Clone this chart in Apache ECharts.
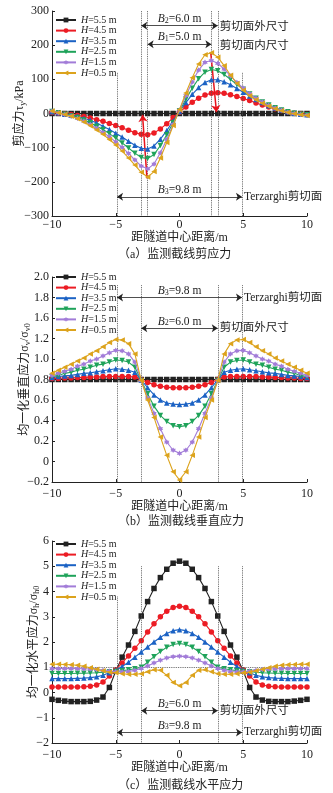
<!DOCTYPE html>
<html><head><meta charset="utf-8">
<script src="https://cdn.jsdelivr.net/npm/echarts@6/dist/echarts.min.js"></script>
<style>html,body{margin:0;padding:0;background:#fff}#c{width:333px;height:793px}</style>
</head><body><div id="c"></div>
<script>
// ---------- DATA ----------
const xs = [-10,-9.5,-9,-8.5,-8,-7.5,-7,-6.5,-6,-5.5,-5,-4.5,-4,-3.5,-3,-2.5,-2,-1.5,-1,-0.5,0,0.5,1,1.5,2,2.5,3,3.5,4,4.5,5,5.5,6,6.5,7,7.5,8,8.5,9,9.5,10];
const seriesNames = ['H=5.5 m','H=4.5 m','H=3.5 m','H=2.5 m','H=1.5 m','H=0.5 m'];

// (a) shear stress, kPa
const a55 = [0,0,0,0,0,0,0,0,0,0,0,0,0,0,0,0,0,0,0,0,0,0,0,0,0,0,0,0,0,0,0,0,0,0,0,0,0,0,0,0,0];
const a45 = [3,1,-1,-3,-6,-9,-13,-18,-23,-29,-35,-42,-49,-56,-61,-62,-57,-45,-30,-12,4,19,33,45,54,59,61,59,55,50,44,38,31,25,19,14,9,5,1,-1,-3];
const a35 = [5,2,-2,-5,-9,-14,-20,-28,-37,-47,-58,-69,-81,-93,-102,-104,-95,-75,-50,-22,6,32,56,76,91,99,99,93,84,73,62,51,41,32,23,16,10,5,1,-2,-4];
const a25 = [6,2,-2,-7,-12,-19,-27,-37,-47,-59,-72,-86,-101,-116,-129,-132,-120,-94,-62,-27,8,42,74,102,121,129,125,114,100,85,71,57,45,34,25,17,10,5,1,-2,-4];
const a15 = [7,2,-3,-8,-14,-22,-32,-43,-55,-68,-83,-99,-117,-136,-154,-162,-148,-115,-76,-32,10,52,92,127,150,155,147,130,110,91,74,58,45,34,24,16,10,4,0,-3,-5];
const a05 = [7,2,-3,-8,-15,-25,-36,-48,-61,-76,-92,-110,-130,-151,-172,-186,-170,-130,-85,-35,12,60,105,145,172,178,165,140,112,88,68,52,40,30,21,14,8,3,-1,-4,-6];

// (b) normalised vertical stress
const b55 = [0.8,0.8,0.8,0.8,0.8,0.8,0.8,0.8,0.8,0.8,0.8,0.8,0.8,0.8,0.8,0.8,0.8,0.8,0.8,0.8,0.8,0.8,0.8,0.8,0.8,0.8,0.8,0.8,0.8,0.8,0.8,0.8,0.8,0.8,0.8,0.8,0.8,0.8,0.8,0.8,0.8];
const b45 = [0.81,0.81,0.815,0.815,0.82,0.82,0.825,0.825,0.83,0.83,0.83,0.83,0.83,0.825,0.8,0.77,0.75,0.735,0.725,0.72,0.72,0.72,0.725,0.735,0.75,0.77,0.8,0.825,0.83,0.83,0.83,0.83,0.83,0.825,0.825,0.82,0.82,0.815,0.815,0.81,0.81];
const b35 = [0.82,0.83,0.835,0.84,0.85,0.86,0.865,0.875,0.885,0.895,0.905,0.9,0.89,0.87,0.795,0.72,0.65,0.6,0.57,0.56,0.555,0.56,0.57,0.6,0.65,0.72,0.795,0.87,0.89,0.9,0.905,0.895,0.885,0.875,0.865,0.86,0.85,0.84,0.835,0.83,0.82];
const b25 = [0.83,0.84,0.86,0.87,0.89,0.9,0.92,0.94,0.95,0.97,0.99,0.985,0.97,0.92,0.79,0.66,0.54,0.45,0.39,0.35,0.34,0.35,0.39,0.45,0.54,0.66,0.79,0.92,0.97,0.985,0.99,0.97,0.95,0.94,0.92,0.9,0.89,0.87,0.86,0.84,0.83];
const b15 = [0.84,0.86,0.88,0.9,0.93,0.95,0.98,1.0,1.03,1.06,1.085,1.08,1.05,0.97,0.79,0.62,0.47,0.32,0.19,0.11,0.08,0.11,0.19,0.32,0.47,0.62,0.79,0.97,1.05,1.08,1.085,1.06,1.03,1.0,0.98,0.95,0.93,0.9,0.88,0.86,0.84];
const b05 = [0.86,0.89,0.92,0.95,0.98,1.01,1.05,1.08,1.12,1.16,1.19,1.185,1.15,1.05,0.79,0.6,0.43,0.24,0.06,-0.1,-0.18,-0.1,0.06,0.24,0.43,0.6,0.79,1.05,1.15,1.185,1.19,1.16,1.12,1.08,1.05,1.01,0.98,0.95,0.92,0.89,0.86];

// (c) normalised horizontal stress
const c55 = [-0.27,-0.31,-0.34,-0.36,-0.36,-0.36,-0.35,-0.3,-0.18,0.2,0.85,1.4,1.88,2.42,3.03,3.6,4.12,4.55,4.88,5.12,5.2,5.12,4.88,4.55,4.12,3.6,3.03,2.42,1.88,1.4,0.85,0.2,-0.18,-0.3,-0.35,-0.36,-0.36,-0.36,-0.34,-0.31,-0.27];
const c45 = [0.22,0.22,0.22,0.22,0.22,0.23,0.25,0.3,0.42,0.65,0.9,1.17,1.45,1.75,2.05,2.4,2.72,3.0,3.22,3.37,3.42,3.37,3.22,3.0,2.72,2.4,2.05,1.75,1.45,1.17,0.9,0.65,0.42,0.3,0.25,0.23,0.22,0.22,0.22,0.22,0.22];
const c35 = [0.55,0.55,0.55,0.55,0.56,0.57,0.59,0.62,0.68,0.78,0.88,1.03,1.2,1.4,1.6,1.8,2.0,2.19,2.34,2.45,2.49,2.45,2.34,2.19,2.0,1.8,1.6,1.4,1.2,1.03,0.88,0.78,0.68,0.62,0.59,0.57,0.56,0.55,0.55,0.55,0.55];
const c25 = [0.75,0.75,0.75,0.75,0.76,0.76,0.77,0.78,0.8,0.82,0.83,0.86,0.9,0.94,1.0,1.2,1.42,1.62,1.79,1.9,1.94,1.9,1.79,1.62,1.42,1.2,1.0,0.94,0.9,0.86,0.83,0.82,0.8,0.78,0.77,0.76,0.76,0.75,0.75,0.75,0.75];
const c15 = [0.95,0.95,0.95,0.95,0.95,0.94,0.93,0.91,0.88,0.85,0.82,0.82,0.83,0.88,0.95,1.05,1.17,1.28,1.37,1.42,1.44,1.42,1.37,1.28,1.17,1.05,0.95,0.88,0.83,0.82,0.82,0.85,0.88,0.91,0.93,0.94,0.95,0.95,0.95,0.95,0.95];
const c05 = [1.12,1.12,1.11,1.1,1.08,1.04,0.98,0.92,0.86,0.8,0.78,0.74,0.72,0.72,0.74,0.82,0.9,0.88,0.68,0.4,0.27,0.4,0.68,0.88,0.9,0.82,0.74,0.72,0.72,0.74,0.78,0.8,0.86,0.92,0.98,1.04,1.08,1.1,1.11,1.12,1.12];

// tick labels
const xTicks = ['\u221210','\u22125','0','5','10'];
const yTicksA = ['\u2212300','\u2212200','\u2212100','0','100','200','300'];
const yTicksB = ['\u22120.2','0','0.2','0.4','0.6','0.8','1.0','1.2','1.6','1.8','2.0'];
const yTicksC = ['\u22122','\u22121','0','1','2','3','4','5','6'];

// ---------- STYLE ----------
const FONT = "'Liberation Serif','Noto Sans CJK SC',serif";
const colors = ['#222222','#ec1c24','#1b62c4','#1fa35a','#a27cd8','#dca31c'];
const star = 'path://M0,-10L-2.89,-5L-8.66,-5L-5.77,0L-8.66,5L-2.89,5L0,10L2.89,5L8.66,5L5.77,0L8.66,-5L2.89,-5Z';
const symbols = ['rect','circle','triangle','triangle',star,'triangle'];
const rots = [0,0,0,180,0,90];
const grids = [
  {left:52,width:255,top:11,height:205,outerBoundsMode:'none',containLabel:false},
  {left:52,width:255,top:277,height:205,outerBoundsMode:'none',containLabel:false},
  {left:52,width:255,top:541,height:202,outerBoundsMode:'none',containLabel:false}
];
const panels = [
  {vals:[a55,a45,a35,a25,a15,a05], ymin:-300, ymax:300, yint:100, yt:yTicksA,
   yname:'剪应力τ{s|y}/kPa', ygap:25, xmargin:3, xgap:16, caption:'（a）监测截线剪应力', capTop:249, legTop:15},
  {vals:[b55,b45,b35,b25,b15,b05], ymin:-0.2, ymax:1.8, yint:0.2, yt:yTicksB,
   yname:'均一化垂直应力σ{s|v}/σ{s|v0}', ygap:20, xmargin:6, xgap:19, caption:'（b）监测截线垂直应力', capTop:516, legTop:272},
  {vals:[c55,c45,c35,c25,c15,c05], ymin:-2, ymax:6, yint:1, yt:yTicksC,
   yname:'均一化水平应力σ{s|h}/σ{s|h0}', ygap:11, xmargin:6, xgap:19, caption:'（c）监测截线水平应力', capTop:780, legTop:539}
];

const subRich = {s:{fontSize:8,fontFamily:FONT,color:'#222',verticalAlign:'bottom',padding:[3,0,0,0]},
                 i:{fontSize:11.5,fontFamily:FONT,color:'#222',fontStyle:'italic'}};

const series = [];
panels.forEach((p, pi) => {
  p.vals.forEach((v, k) => {
    series.push({
      type:'line', name:seriesNames[k], xAxisIndex:pi, yAxisIndex:pi,
      data: xs.map((x, i) => [x, v[i]]),
      symbol:symbols[k], symbolRotate:rots[k], symbolSize:5.5, showSymbol:true,
      lineStyle:{width:1.1, color:colors[k]}, itemStyle:{color:colors[k]},
      z: 3 + k, animation:false, silent:true
    });
  });
});

function vline(x, y1, y2) { return [{coord:[x, y1]}, {coord:[x, y2]}]; }
function bArrow(x, y, txt) {
  return [{coord:[-x, y], label:{show:true, position:'insideMiddleTop', distance:1, formatter:txt}}, {coord:[x, y]}];
}
function sideText(x, y, txt) {
  return {coord:[x, y], symbolSize:0, label:{show:true, position:'right', distance:2, formatter:txt,
    fontFamily:FONT, fontSize:11.5, color:'#222'}};
}
const lblStyle = {fontFamily:FONT, fontSize:11.5, color:'#222', rich:subRich};

function helper(pi, vlines, arrows, texts, extra) {
  const s = [{
    type:'line', xAxisIndex:pi, yAxisIndex:pi, data:[], z:20, silent:true, animation:false,
    markLine:{silent:true, animation:false, symbol:'none', label:{show:false},
      lineStyle:{type:'dotted', color:'#555', width:0.9}, data: vlines}
  },{
    type:'line', xAxisIndex:pi, yAxisIndex:pi, data:[], z:21, silent:true, animation:false,
    markLine:{silent:true, animation:false, symbol:['arrow','arrow'], symbolSize:6,
      label:Object.assign({show:true}, lblStyle),
      lineStyle:{type:'solid', color:'#222', width:0.8}, data: arrows},
    markPoint:{silent:true, animation:false, symbol:'circle', symbolSize:0, data: texts}
  }];
  if (extra) s.push(extra);
  return s;
}

// (a)
series.push(...helper(0,
  [vline(-2.5,300,-300), vline(-3,300,-300), vline(2.5,300,-300), vline(3,300,-300), vline(-4.9,119,-300), vline(4.9,119,-300)],
  [bArrow(3,257,'{i|B}{s|2}=6.0 m'), bArrow(2.5,203,'{i|B}{s|1}=5.0 m'), bArrow(4.9,-244,'{i|B}{s|3}=9.8 m')],
  [sideText(3,254,'剪切面外尺寸'), sideText(3,199,'剪切面内尺寸'), sideText(4.9,-244,'Terzarghi剪切面')],
  {type:'line', xAxisIndex:0, yAxisIndex:0, data:[], z:30, silent:true, animation:false,
   markLine:{silent:true, animation:false, symbol:['none','arrow'], symbolSize:7, label:{show:false},
     lineStyle:{type:'solid', color:'#e8141c', width:1.5},
     data:[[{coord:[-2.55,-190]},{coord:[-2.9,-4]}], [{coord:[2.45,178]},{coord:[2.9,4]}]]}}
));
// (b)
series.push(...helper(1,
  [vline(-4.9,1.72,-0.2), vline(-3,1.72,-0.2), vline(3,1.72,-0.2), vline(4.9,1.72,-0.2)],
  [bArrow(4.9,1.6,'{i|B}{s|3}=9.8 m'), bArrow(3,1.3,'{i|B}{s|2}=6.0 m')],
  [sideText(4.9,1.6,'Terzarghi剪切面'), sideText(3,1.3,'剪切面外尺寸')]
));
// (c)
series.push(...helper(2,
  [vline(-4.9,3.8,-2), vline(-3,5,-2), vline(3,5,-2), vline(4.9,5,-2), [{coord:[-10,1]},{coord:[10,1]}]],
  [bArrow(3,-0.72,'{i|B}{s|2}=6.0 m'), bArrow(4.9,-1.58,'{i|B}{s|3}=9.8 m')],
  [sideText(3,-0.75,'剪切面外尺寸'), sideText(4.9,-1.58,'Terzarghi剪切面')]
));

const axisCommon = {
  axisLine:{show:true, onZero:false, lineStyle:{color:'#222', width:1}},
  axisTick:{show:true, inside:true, length:3, lineStyle:{color:'#222'}},
  splitLine:{show:false}
};

const option = {
  backgroundColor:'#fff',
  animation:false,
  grid: grids,
  title: panels.map(p => ({text:p.caption, left:118, top:p.capTop, padding:0,
    textStyle:{fontFamily:FONT, fontSize:12, fontWeight:'normal', color:'#222'}})),
  legend: panels.map(p => ({
    data: seriesNames, orient:'vertical', left:55, top:p.legTop, padding:0,
    itemWidth:20, itemHeight:6, itemGap:0.6, selectedMode:false,
    formatter: n => '{i|H}' + n.slice(1),
    textStyle:{fontFamily:FONT, fontSize:10, lineHeight:10, color:'#222',
      rich:{i:{fontFamily:FONT, fontSize:10, fontStyle:'italic', color:'#222'}}}
  })),
  xAxis: panels.map((p, pi) => Object.assign({}, axisCommon, {
    type:'value', gridIndex:pi, min:-10, max:10, interval:5,
    name:'距隧道中心距离/m', nameLocation:'middle', nameGap:p.xgap, nameMoveOverlap:false,
    nameTextStyle:{fontFamily:FONT, fontSize:12, color:'#222'},
    axisLabel:{fontFamily:FONT, fontSize:12, color:'#222', margin:p.xmargin,
      formatter:(v) => xTicks[Math.round((v + 10) / 5)]}
  })),
  yAxis: panels.map((p, pi) => Object.assign({}, axisCommon, {
    type:'value', gridIndex:pi, min:p.ymin, max:p.ymax, interval:p.yint,
    name:p.yname, nameLocation:'middle', nameGap:p.ygap, nameRotate:90, nameMoveOverlap:false,
    nameTextStyle:{fontFamily:FONT, fontSize:12, color:'#222', lineHeight:14,
      rich:{s:{fontSize:8, fontFamily:FONT, color:'#222', verticalAlign:'bottom', lineHeight:14}}},
    axisLabel:{fontFamily:FONT, fontSize:12, color:'#222', margin:3,
      formatter:(v) => p.yt[Math.round((v - p.ymin) / p.yint)]}
  })),
  series: series
};

const chart = echarts.init(document.getElementById('c'), null, {renderer:'canvas'});
chart.setOption(option);
</script>
</body></html>
